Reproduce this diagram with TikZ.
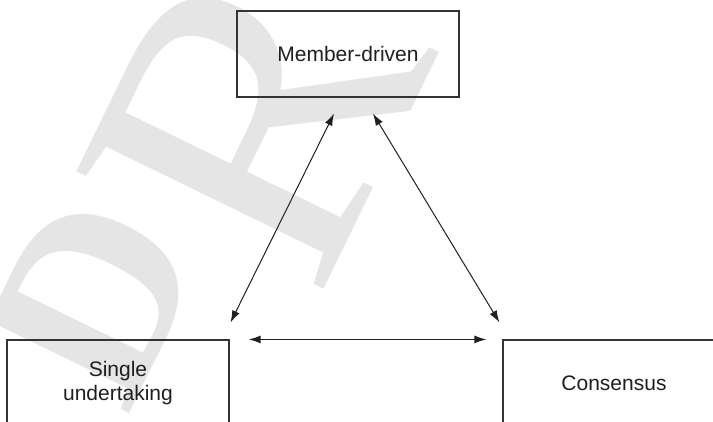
\documentclass[tikz,border=0pt]{standalone}
\usepackage{fontspec}
\setmainfont{Liberation Sans}
\newfontfamily\wmfont{Liberation Serif}
\usetikzlibrary{arrows.meta,calc}
\begin{document}
\begin{tikzpicture}[x=1pt,y=-1pt,
  box/.style={draw=black!80, line width=1.1pt, minimum width=222pt, minimum height=86pt,
    inner sep=0pt, text=black!88, font=\fontsize{21}{24}\selectfont, align=center},
  link/.style={draw=black!88, line width=1pt,
    {Latex[length=12pt,width=8pt]}-{Latex[length=12pt,width=8pt]}},
  watermark/.style={rotate=64, anchor=base west, text=black!10, inner sep=0pt}]
\useasboundingbox (0,0) rectangle (713,421);
\clip (0,0) rectangle (713,421);
\node[watermark, font=\wmfont\bfseries\fontsize{255}{255}\selectfont] (wmD) at (127,418) {D};
\node[watermark, font=\wmfont\fontsize{418}{418}\selectfont] (wmR) at (317,303) {R};
\node[box] (md) at (348,54) {Member-driven};
\node[box] (su) at (118,383) {Single\\undertaking};
\node[box] (cs) at (614,383) {Consensus};
\coordinate (mdL) at ($(md.south)+(-14,16)$);
\coordinate (mdR) at ($(md.south)+(25,16)$);
\coordinate (suT) at ($(su.north east)+(1,-17)$);
\coordinate (suR) at ($(su.north east)+(19,0)$);
\coordinate (csT) at ($(cs.north west)+(-3,-17)$);
\coordinate (csL) at ($(cs.north west)+(-16,0)$);
\draw[link] (mdL) -- (suT);
\draw[link] (mdR) -- (csT);
\draw[link, line width=1.4pt] (suR) -- (csL);
\end{tikzpicture}
\end{document}
